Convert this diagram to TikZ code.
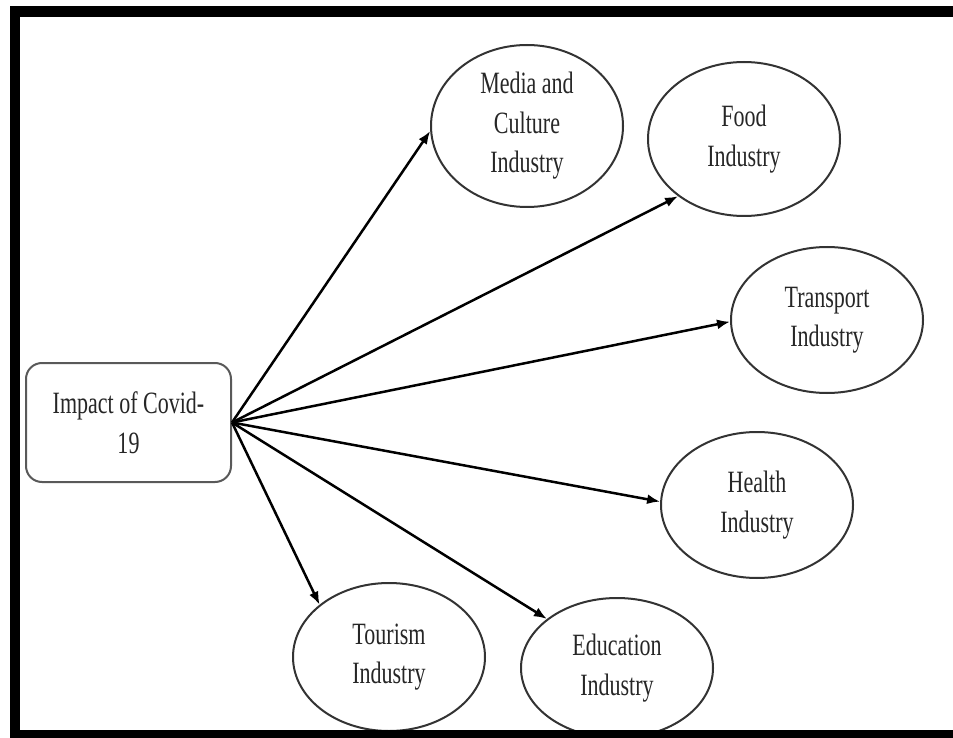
\documentclass[tikz,border=0pt]{standalone}
\usepackage{fontspec}
\setmainfont{Liberation Serif}
\newfontfamily\narrowserif[FakeStretch=0.71]{Liberation Serif}
\usetikzlibrary{shapes.geometric,arrows.meta}

\begin{document}
\begin{tikzpicture}[x=1pt,y=-1pt,
  every node/.style={font=\narrowserif\fontsize{31}{39.5}\selectfont, align=center, text=black!85},
  industry/.style={ellipse, draw=black!80, line width=2pt, inner sep=0pt, minimum width=192pt},
  source/.style={rectangle, rounded corners=16pt, draw=black!65, line width=2pt,
                 minimum width=205pt, minimum height=119pt, inner sep=0pt},
  link/.style={line width=2.5pt, -{Latex[length=13pt,width=10pt]}}
]
\useasboundingbox (0,0) rectangle (953,738);

% central cause
\node[source] (impact) at (128.5,422.5) {Impact of Covid-\\19};
\coordinate (hub) at (impact.east);

% affected industries
\node[industry, minimum height=162pt] (media) at (527,126) {Media and\\Culture\\Industry};
\node[industry, minimum height=154pt] (food) at (744,139) {Food\\Industry};
\node[industry, minimum height=146pt] (transport) at (827,320) {Transport\\Industry};
\node[industry, minimum height=146pt] (health) at (757,505) {Health\\Industry};
\node[industry, minimum height=148pt] (tourism) at (389,657) {Tourism\\Industry};
\node[industry, minimum height=140pt] (education) at (617,668) {Education\\Industry};

% arrows from the cause to each industry
\draw[link] (hub) -- (media.183);
\draw[link] (hub) -- (food.221);
\draw[link] (hub) -- (transport.181);
\draw[link] (hub) -- (health.178);
\draw[link] (hub) -- (tourism.143);
\draw[link] (hub) -- (education.145);

% frame on top, left and bottom
\fill[black] (10,6) rectangle (953,17);
\fill[black] (10,6) rectangle (20,738);
\fill[black] (10,730) rectangle (953,738);
\end{tikzpicture}
\end{document}
